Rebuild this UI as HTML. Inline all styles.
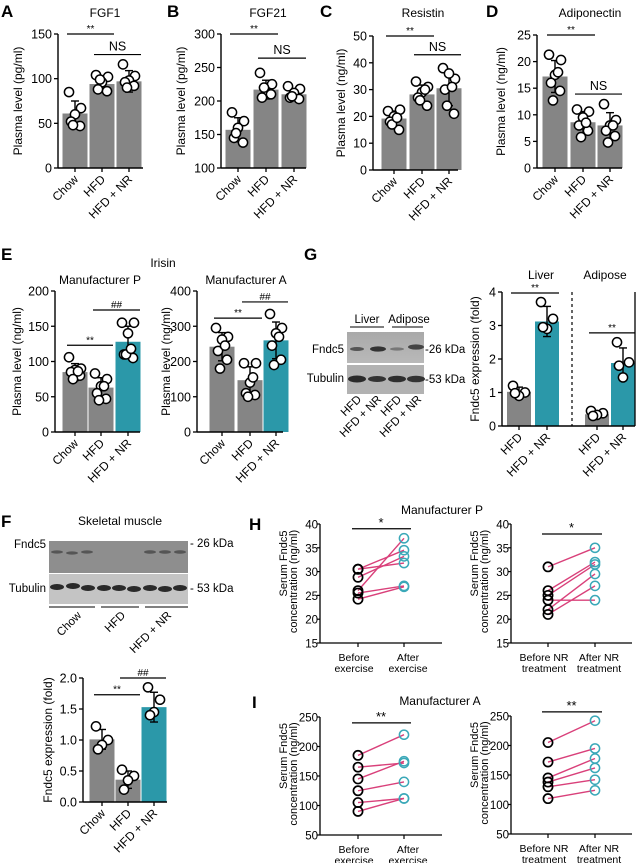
<!DOCTYPE html>
<html><head><meta charset="utf-8"><style>
html,body{margin:0;padding:0;background:#fff;}
svg{display:block;font-family:"Liberation Sans",Arial,sans-serif;}
</style></head><body>
<svg id="fig" width="641" height="863" viewBox="0 0 641 863" xmlns="http://www.w3.org/2000/svg">
<defs>
<linearGradient id="gblot" x1="0" y1="0" x2="0" y2="1"><stop offset="0" stop-color="#a9a9a9"/><stop offset="1" stop-color="#b9b9b9"/></linearGradient>
</defs>
<g font-weight="bold" font-size="17">
<text x="1" y="17">A</text>
<text x="167" y="17">B</text>
<text x="320" y="17">C</text>
<text x="486" y="17">D</text>
<text x="1" y="260">E</text>
<text x="304" y="260">G</text>
<text x="1" y="527">F</text>
<text x="249" y="530">H</text>
<text x="252" y="708">I</text>
</g>
<text x="163" y="267" font-size="12" text-anchor="middle">Irisin</text>
<text x="442" y="514" font-size="12" text-anchor="middle">Manufacturer P</text>
<text x="440" y="705" font-size="12" text-anchor="middle">Manufacturer A</text>

<!-- G blot -->
<g>
<text x="367" y="323" font-size="11.5" text-anchor="middle">Liver</text>
<text x="409" y="323" font-size="11.5" text-anchor="middle">Adipose</text>
<line x1="350" y1="327" x2="384" y2="327" stroke="#000" stroke-width="1"/>
<line x1="392" y1="327" x2="423" y2="327" stroke="#000" stroke-width="1"/>
<rect x="347" y="332" width="77" height="31" fill="url(#gblot)"/>
<rect x="347" y="365" width="77" height="29" fill="#b2b2b2"/>
<ellipse cx="357" cy="349" rx="7" ry="2" fill="#555"/>
<ellipse cx="378" cy="349" rx="8" ry="2.6" fill="#333"/>
<ellipse cx="397" cy="349" rx="7" ry="1.6" fill="#777"/>
<ellipse cx="416" cy="347" rx="8" ry="2.6" fill="#444"/>
<ellipse cx="357" cy="379" rx="9" ry="3.5" fill="#2a2a2a"/>
<ellipse cx="377" cy="379" rx="9" ry="3" fill="#333"/>
<ellipse cx="397" cy="379" rx="9" ry="3.3" fill="#2e2e2e"/>
<ellipse cx="416" cy="379" rx="9" ry="3.3" fill="#333"/>
<text x="344" y="353" font-size="11.5" text-anchor="end">Fndc5</text>
<text x="344" y="382" font-size="11.5" text-anchor="end">Tubulin</text>
<text x="425" y="353" font-size="11.5">-26 kDa</text>
<text x="425" y="383" font-size="11.5">-53 kDa</text>
<g font-size="11.5" text-anchor="end">
<text transform="translate(362,400) rotate(-45)">HFD</text>
<text transform="translate(382,400) rotate(-45)">HFD + NR</text>
<text transform="translate(402,400) rotate(-45)">HFD</text>
<text transform="translate(422,400) rotate(-45)">HFD + NR</text>
</g>
</g>

<!-- F blot -->
<g>
<text x="120" y="525" font-size="12" text-anchor="middle">Skeletal muscle</text>
<rect x="49" y="541" width="139" height="32" fill="#8e8e8e"/>
<rect x="49" y="574" width="139" height="30" fill="#c4c4c4"/>
<g fill="#555">
<ellipse cx="57" cy="552" rx="6" ry="1.6"/><ellipse cx="72" cy="553" rx="6" ry="1.6"/><ellipse cx="87" cy="552" rx="6" ry="1.6"/>
<ellipse cx="150" cy="552" rx="6" ry="1.8"/><ellipse cx="165" cy="552" rx="6" ry="1.8"/><ellipse cx="180" cy="552" rx="6" ry="1.8"/>
</g>
<g fill="#2a2a2a">
<ellipse cx="57" cy="587" rx="7" ry="3"/><ellipse cx="73" cy="586" rx="7" ry="3"/><ellipse cx="88" cy="588" rx="7" ry="3"/>
<ellipse cx="104" cy="588" rx="7" ry="3"/><ellipse cx="119" cy="588" rx="7" ry="3"/><ellipse cx="134" cy="589" rx="7" ry="3"/>
<ellipse cx="150" cy="588" rx="7" ry="3"/><ellipse cx="165" cy="589" rx="7" ry="3"/><ellipse cx="180" cy="588" rx="7" ry="3"/>
</g>
<text x="46" y="548" font-size="11.5" text-anchor="end">Fndc5</text>
<text x="46" y="592" font-size="11.5" text-anchor="end">Tubulin</text>
<text x="190" y="547" font-size="11.5">- 26 kDa</text>
<text x="190" y="592" font-size="11.5">- 53 kDa</text>
<line x1="49" y1="607" x2="95" y2="607" stroke="#000"/>
<line x1="101" y1="607" x2="139" y2="607" stroke="#000"/>
<line x1="145" y1="607" x2="188" y2="607" stroke="#000"/>
<g font-size="11.5" text-anchor="end">
<text transform="translate(82,616) rotate(-45)">Chow</text>
<text transform="translate(126,616) rotate(-45)">HFD</text>
<text transform="translate(172,616) rotate(-45)">HFD + NR</text>
</g>
</g>
</svg>
<script>
// ---- data ----
const catsThree = ['Chow','HFD','HFD + NR'];
const fgf1Means = [61, 94, 97];
const fgf1Sds = [14, 9, 12];
const fgf1Pts = [[85,67,60,52,47,48],[104,102,96,88,86,99],[116,103,98,96,92,90]];
const fgf21Means = [157, 217, 210];
const fgf21Sds = [18, 14, 8];
const fgf21Pts = [[183,170,160,145,138,152],[242,225,213,205,210,220],[222,218,212,205,203,207]];
const resistinMeans = [19.2, 28.2, 30.5];
const resistinSds = [2.8, 3.5, 6.5];
const resistinPts = [[22,22.5,20,18,15,17,19.5],[33,31,29,27,24,26,30],[38,34,36,30,21,24,31]];
const adipoMeans = [17.2, 8.6, 8.0];
const adipoSds = [3.0, 2.0, 2.4];
const adipoPts = [[21.3,20.3,17.5,16,14.5,12.7,18],[11,10.6,9.5,8,7,5.8,8.5],[12,9,8,7,6,4.8,8]];
const irisinPMeans = [85, 63, 128];
const irisinPSds = [12, 14, 22];
const irisinPPts = [[106,90,88,85,80,75,86],[83,75,65,55,47,45,65],[155,155,140,110,105,110,118]];
const irisinAMeans = [242, 147, 260];
const irisinASds = [40, 38, 52];
const irisinAPts = [[295,270,262,230,205,180,245],[195,195,140,110,105,100,155],[335,295,280,245,205,190,270]];
const muscleMeans = [1.01, 0.36, 1.53];
const muscleSds = [0.16, 0.14, 0.24];
const musclePts = [[1.22,1.0,0.92,0.85],[0.52,0.42,0.35,0.2],[1.85,1.65,1.45,1.4]];
const catsG = ['HFD','HFD + NR','HFD','HFD + NR'];
const tissueMeans = [1.02, 3.12, 0.35, 1.88];
const tissueSds = [0.14, 0.45, 0.08, 0.45];
const tissuePts = [[1.2,1.0,0.9,0.98],[3.7,3.2,2.9,2.95],[0.45,0.38,0.33,0.3],[2.5,1.9,1.45,1.8]];
const hExBefore = [24.2, 25.5, 26, 28.8, 30.5, 30.5];
const hExAfter = [26.8, 27, 37, 33.2, 34.5, 31.8];
const hNrBefore = [31, 26, 25, 24, 22, 21];
const hNrAfter = [35, 32, 31.5, 24, 29.5, 27];
const iExBefore = [185, 165, 145, 125, 105, 90];
const iExAfter = [220, 172, 175, 140, 112, 112];
const iNrBefore = [205, 172, 145, 138, 130, 110];
const iNrAfter = [242, 195, 178, 162, 142, 124];

const NS = 'http://www.w3.org/2000/svg';
const svg = document.getElementById('fig');
const GRAY = '#858585', TEAL = '#2b98a9';
function mk(tag, attrs, parent, txt) {
  const e = document.createElementNS(NS, tag);
  for (const k in attrs) e.setAttribute(k, attrs[k]);
  if (txt !== undefined) e.textContent = txt;
  (parent || svg).appendChild(e);
  return e;
}
const jit = [-6, 6, 0, -4, 5, -2, 3];

function barChart(o, name, cats, means, sds, pts, colors, brackets) {
  const g = mk('g', {});
  
  
  const y = v => o.yBot - (v - o.vmin) / (o.vmax - o.vmin) * (o.yBot - o.yTop);
  means.forEach((m, i) => {
    const r = mk('rect', {x: o.cx[i] - o.bw / 2, y: y(m), width: o.bw, height: o.yBot - y(m), fill: colors[i]}, g);
    
    
  });
  means.forEach((m, i) => {
    const x = o.cx[i];
    mk('line', {x1: x, x2: x, y1: y(m - sds[i]), y2: y(m + sds[i]), stroke: '#000', 'stroke-width': 1.4}, g);
    mk('line', {x1: x - 4, x2: x + 4, y1: y(m - sds[i]), y2: y(m - sds[i]), stroke: '#000', 'stroke-width': 1.4}, g);
    mk('line', {x1: x - 4, x2: x + 4, y1: y(m + sds[i]), y2: y(m + sds[i]), stroke: '#000', 'stroke-width': 1.4}, g);
  });
  pts.forEach((arr, i) => arr.forEach((v, k) => {
    const c = mk('circle', {cx: o.cx[i] + jit[k % jit.length], cy: y(v), r: 4.6, fill: '#fff', stroke: '#000', 'stroke-width': 1.5}, g);
    
    
  }));
  mk('line', {x1: o.x0, x2: o.x0, y1: o.yTop, y2: o.yBot, stroke: '#000', 'stroke-width': 1.4}, g);
  mk('line', {x1: o.x0, x2: o.x1, y1: o.yBot, y2: o.yBot, stroke: '#000', 'stroke-width': 1.4}, g);
  o.ticks.forEach(t => {
    mk('line', {x1: o.x0 - 4, x2: o.x0, y1: y(t), y2: y(t), stroke: '#000', 'stroke-width': 1.3}, g);
    mk('text', {x: o.x0 - 6, y: y(t) + 4.5, 'font-size': 12.5, 'text-anchor': 'end'}, g, o.fmt ? o.fmt(t) : t);
  });
  cats.forEach((c, i) => {
    mk('line', {x1: o.cx[i], x2: o.cx[i], y1: o.yBot, y2: o.yBot + 4, stroke: '#000', 'stroke-width': 1.3}, g);
    const t = mk('text', {transform: `translate(${o.cx[i] + 4},${o.yBot + 12}) rotate(-45)`, 'font-size': 12, 'text-anchor': 'end'}, g, c);
    
    
  });
  const yt = mk('text', {transform: `translate(${o.ytx},${(o.yTop + o.yBot) / 2}) rotate(-90)`, 'font-size': 12, 'text-anchor': 'middle'}, g, o.ytitle);
  
  
  if (o.title) {
    const tt = mk('text', {x: o.tx, y: o.ty, 'font-size': 12, 'text-anchor': 'middle'}, g, o.title);
    
    
  }
  brackets.forEach(b => {
    const yy = y(b.v), xa = o.cx[b.i] - 8, xb = o.cx[b.j] + 12;
    mk('line', {x1: xa, x2: xb, y1: yy, y2: yy, stroke: '#000', 'stroke-width': 1.2}, g);
    const big = b.l === 'NS';
    mk('text', {x: (xa + xb) / 2, y: yy - (big ? 4 : 2), 'font-size': big ? 12.5 : 10, 'text-anchor': 'middle'}, g, b.l);
  });
  return {g, y};
}

function paired(o, name, before, after, xlab, sig) {
  const g = mk('g', {});
  
  
  const y = v => o.yBot - (v - o.vmin) / (o.vmax - o.vmin) * (o.yBot - o.yTop);
  before.forEach((b, i) => {
    const l = mk('line', {x1: o.bx, x2: o.ax, y1: y(b), y2: y(after[i]), stroke: '#d9407a', 'stroke-width': 1.4}, g);
    
    
  });
  before.forEach(b => {
    const c = mk('circle', {cx: o.bx, cy: y(b), r: 4.6, fill: 'none', stroke: '#000', 'stroke-width': 1.7}, g);
    
    
  });
  after.forEach(a => {
    const c = mk('circle', {cx: o.ax, cy: y(a), r: 4.6, fill: 'none', stroke: '#3aa8b8', 'stroke-width': 1.5}, g);
    
    
  });
  mk('line', {x1: o.x0, x2: o.x0, y1: o.yTop, y2: o.yBot, stroke: '#000', 'stroke-width': 1.3}, g);
  mk('line', {x1: o.x0, x2: o.x1, y1: o.yBot, y2: o.yBot, stroke: '#000', 'stroke-width': 1.3}, g);
  o.ticks.forEach(t => {
    mk('line', {x1: o.x0 - 3, x2: o.x0, y1: y(t), y2: y(t), stroke: '#000', 'stroke-width': 1.2}, g);
    mk('text', {x: o.x0 - 2, y: y(t) + 4.5, 'font-size': 11.5, 'text-anchor': 'end'}, g, t);
  });
  [o.bx, o.ax].forEach((x, i) => {
    mk('line', {x1: x, x2: x, y1: o.yBot, y2: o.yBot + 4, stroke: '#000', 'stroke-width': 1.2}, g);
    const lx = x + (i === 0 ? -4 : 4);
    mk('text', {x: lx, y: o.yBot + 18, 'font-size': 10.5, 'text-anchor': 'middle'}, g, xlab[i][0]);
    mk('text', {x: lx, y: o.yBot + 29, 'font-size': 10.5, 'text-anchor': 'middle'}, g, xlab[i][1]);
  });
  const cy = (o.yTop + o.yBot) / 2;
  const t1 = mk('text', {transform: `translate(${o.x0 - 33},${cy - 20}) rotate(-90)`, 'font-size': 11, 'text-anchor': 'middle'}, g, 'Serum Fndc5');
  
  
  mk('text', {transform: `translate(${o.x0 - 23},${cy - 2}) rotate(-90)`, 'font-size': 11, 'text-anchor': 'middle'}, g, 'concentration (ng/ml)');
  const sy = y(sig.v);
  mk('line', {x1: o.bx - 6, x2: o.ax + 7, y1: sy, y2: sy, stroke: '#000', 'stroke-width': 1.2}, g);
  mk('text', {x: (o.bx + o.ax) / 2, y: sy - 2, 'font-size': 13, 'text-anchor': 'middle'}, g, sig.l);
}

const r5 = (a, b, s) => { const o = []; for (let v = a; v <= b + 1e-9; v += s) o.push(+v.toFixed(2)); return o; };
const G3 = [GRAY, GRAY, GRAY], GT = [GRAY, GRAY, TEAL];

barChart({x0:58,x1:143,yTop:34,yBot:168,vmin:0,vmax:150,ticks:r5(0,150,50),cx:[75,102,129],bw:25,title:'FGF1',tx:105,ty:17,ytitle:'Plasma level (pg/ml)',ytx:22},
  'fgf1-chart', catsThree, fgf1Means, fgf1Sds, fgf1Pts, G3, [{i:0,j:1,v:150,l:'**'},{i:1,j:2,v:127,l:'NS'}]);
barChart({x0:221,x1:306,yTop:34,yBot:168,vmin:100,vmax:300,ticks:r5(100,300,50),cx:[238,266,294],bw:25,title:'FGF21',tx:268,ty:17,ytitle:'Plasma level (pg/ml)',ytx:185},
  'fgf21-chart', catsThree, fgf21Means, fgf21Sds, fgf21Pts, G3, [{i:0,j:1,v:300,l:'**'},{i:1,j:2,v:264,l:'NS'}]);
barChart({x0:373,x1:458,yTop:36,yBot:170,vmin:0,vmax:50,ticks:r5(0,50,10),cx:[394,422,449],bw:25,title:'Resistin',tx:423,ty:17,ytitle:'Plasma level (ng/ml)',ytx:345},
  'resistin-chart', catsThree, resistinMeans, resistinSds, resistinPts, G3, [{i:0,j:1,v:50,l:'**'},{i:1,j:2,v:43,l:'NS'}]);
barChart({x0:537,x1:622,yTop:35,yBot:168,vmin:0,vmax:25,ticks:r5(0,25,5),cx:[555,583,610],bw:25,title:'Adiponectin',tx:590,ty:17,ytitle:'Plasma level (ng/ml)',ytx:505},
  'adiponectin-chart', catsThree, adipoMeans, adipoSds, adipoPts, G3, [{i:0,j:1,v:25,l:'**'},{i:1,j:2,v:13.9,l:'NS'}]);
barChart({x0:55,x1:140,yTop:291,yBot:432,vmin:0,vmax:200,ticks:r5(0,200,50),cx:[75,101,128],bw:25,title:'Manufacturer P',tx:100,ty:284,ytitle:'Plasma level (ng/ml)',ytx:21},
  'irisin-p-chart', catsThree, irisinPMeans, irisinPSds, irisinPPts, GT, [{i:0,j:1,v:123,l:'**'},{i:1,j:2,v:173,l:'##'}]);
barChart({x0:197,x1:283,yTop:291,yBot:432,vmin:0,vmax:400,ticks:r5(0,400,100),cx:[222,250,276],bw:25,title:'Manufacturer A',tx:246,ty:284,ytitle:'Plasma level (ng/ml)',ytx:170},
  'irisin-a-chart', catsThree, irisinAMeans, irisinASds, irisinAPts, GT, [{i:0,j:1,v:323,l:'**'},{i:1,j:2,v:369,l:'##'}]);
barChart({x0:83,x1:167,yTop:678,yBot:802,vmin:0,vmax:2,ticks:r5(0,2,0.5),fmt:t=>t.toFixed(1),cx:[102,128,154],bw:25,ytitle:'Fndc5 expression (fold)',ytx:52},
  'muscle-fndc5-chart', catsThree, muscleMeans, muscleSds, musclePts, GT, [{i:0,j:1,v:1.73,l:'**'},{i:1,j:2,v:2.0,l:'##'}]);
const gc = barChart({x0:502,x1:635,yTop:292,yBot:426,vmin:0,vmax:4,ticks:r5(0,4,1),cx:[519,547,597,623],bw:24,ytitle:'Fndc5 expression (fold)',ytx:479},
  'tissue-fndc5-chart', catsG, tissueMeans, tissueSds, tissuePts, [GRAY, TEAL, GRAY, TEAL], [{i:0,j:1,v:3.97,l:'**'},{i:2,j:3,v:2.78,l:'**'}]);
mk('line', {x1:572, x2:572, y1:292, y2:426, stroke:'#000', 'stroke-width':1.2, 'stroke-dasharray':'3,3'}, gc.g);
mk('line', {x1:635, x2:635, y1:292, y2:426, stroke:'#000', 'stroke-width':1.3}, gc.g);
mk('text', {x:541, y:279, 'font-size':12, 'text-anchor':'middle'}, gc.g, 'Liver');
mk('text', {x:605, y:279, 'font-size':12, 'text-anchor':'middle'}, gc.g, 'Adipose');

const exLab = [['Before','exercise'],['After','exercise']];
const nrLab = [['Before NR','treatment'],['After NR','treatment']];
paired({x0:320,x1:442,yTop:524,yBot:643,vmin:15,vmax:40,ticks:r5(15,40,5),bx:358,ax:404}, 'h-exercise-chart', hExBefore, hExAfter, exLab, {v:39, l:'*'});
paired({x0:511,x1:632,yTop:524,yBot:643,vmin:15,vmax:40,ticks:r5(15,40,5),bx:548,ax:595}, 'h-nr-chart', hNrBefore, hNrAfter, nrLab, {v:37.9, l:'*'});
paired({x0:320,x1:442,yTop:717,yBot:835,vmin:50,vmax:250,ticks:r5(50,250,50),bx:358,ax:404}, 'i-exercise-chart', iExBefore, iExAfter, exLab, {v:240, l:'**'});
paired({x0:511,x1:632,yTop:716,yBot:834,vmin:50,vmax:250,ticks:r5(50,250,50),bx:548,ax:595}, 'i-nr-chart', iNrBefore, iNrAfter, nrLab, {v:257, l:'**'});
</script>
</body></html>
